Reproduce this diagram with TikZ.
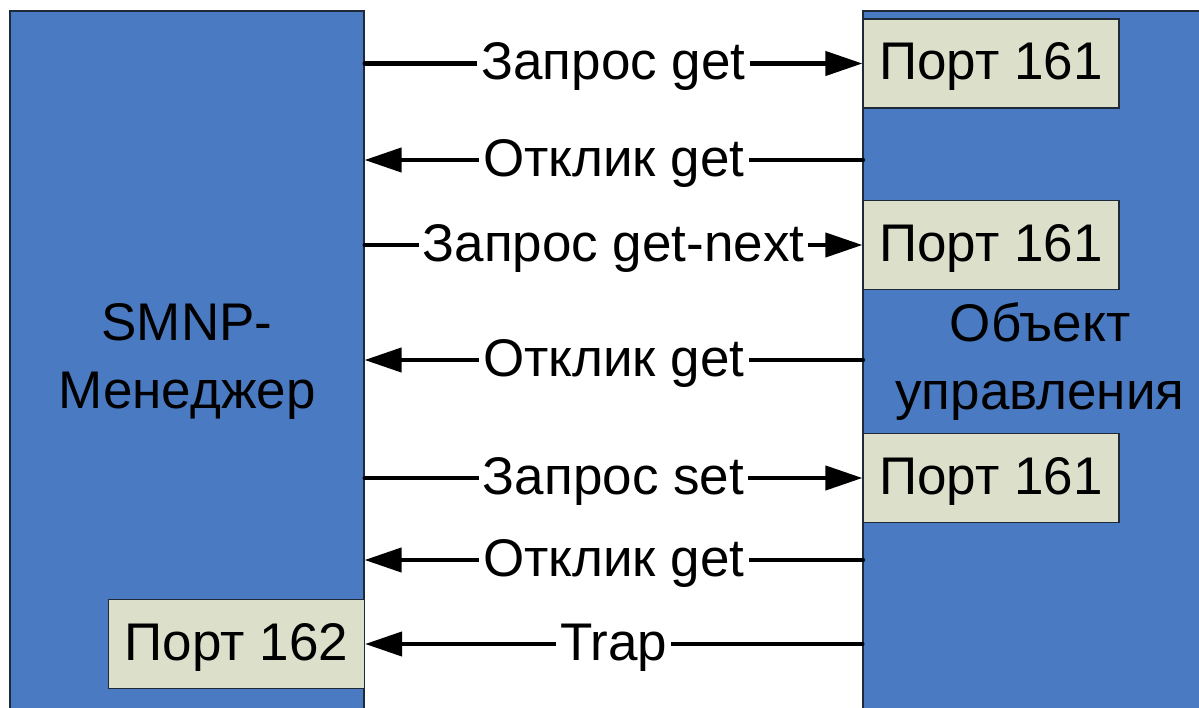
\documentclass[tikz,border=0pt]{standalone}
\usepackage{fontspec}
\setmainfont{Liberation Sans}
\usetikzlibrary{arrows.meta,positioning}
\definecolor{hostblue}{HTML}{4A7AC1}
\definecolor{portfill}{HTML}{DCE0CB}
\definecolor{edge}{HTML}{1E2A38}

\begin{document}
\begin{tikzpicture}[x=1pt, y=-1pt,
  host/.style={draw=edge, line width=1.2pt, fill=hostblue, minimum width=354pt,
               minimum height=701pt, inner sep=0pt, align=center,
               font=\fontsize{53}{68}\selectfont},
  port/.style={draw=edge, line width=1.2pt, fill=portfill, minimum width=256pt,
               minimum height=89pt, inner sep=0pt, text height=44pt, text depth=11pt,
               font=\fontsize{53}{60}\selectfont},
  msg/.style={line width=4.2pt, line cap=round, -{Triangle[length=37pt, width=24pt]}},
  lbl/.style={fill=white, inner xsep=4pt, inner ysep=0pt, text height=44pt, text depth=11pt,
              font=\fontsize{53}{60}\selectfont}
]
\useasboundingbox (0,0) rectangle (1199,708);
\fill[white] (0,0) rectangle (1199,708);
% hosts
\node[host] (mgr) at (187,361.5) {SMNP-\\Менеджер};
\node[host] (obj) at (1040,361.5) {Объект\\управления};
% ports
\node[port] (p1) at (991,63.5) {Порт 161};
\node[port] (p2) at (991,245) {Порт 161};
\node[port] (p3) at (991,478) {Порт 161};
\node[port] (p4) at (236.5,644) {Порт 162};
% reply rows
\coordinate (a1) at (863,160);
\coordinate (a2) at (863,360);
\coordinate (a3) at (863,560);
% messages
\draw[msg] (mgr.east |- p1.west) -- node[lbl] {Запрос get} (p1.west);
\draw[msg] (a1) -- node[lbl] {Отклик get} (mgr.east |- a1);
\draw[msg] (mgr.east |- p2.west) -- node[lbl] {Запрос get-next} (p2.west);
\draw[msg] (a2) -- node[lbl] {Отклик get} (mgr.east |- a2);
\draw[msg] (mgr.east |- p3.west) -- node[lbl] {Запрос set} (p3.west);
\draw[msg] (a3) -- node[lbl] {Отклик get} (mgr.east |- a3);
\draw[msg] (obj.west |- p4.east) -- node[lbl] {Trap} (p4.east);
\end{tikzpicture}
\end{document}
